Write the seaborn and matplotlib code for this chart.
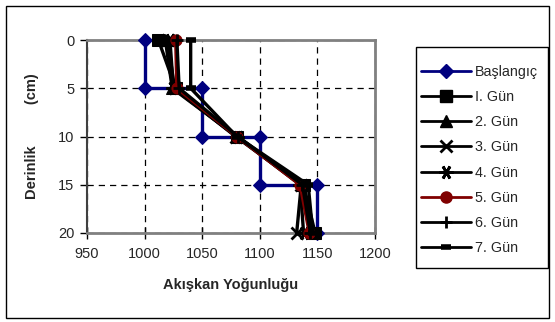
import matplotlib
matplotlib.use("Agg")
import matplotlib.pyplot as plt
import seaborn as sns
import pandas as pd
from matplotlib.patches import Rectangle

sns.set_theme(style="white")
plt.rcParams["font.family"] = ["Liberation Sans", "DejaVu Sans"]

# Initial profile is drawn layer by layer (each depth boundary repeated)
start_depth = [0, 5, 5, 10, 10, 15, 15, 20]
start_density = [1000, 1000, 1050, 1050, 1100, 1100, 1150, 1150]

depths = [0, 5, 10, 15, 20]
gun1 = [1012, 1027, 1080, 1138, 1148]
gun2 = [1018, 1024, 1080, 1137, 1145]
gun3 = [1020, 1026, 1079, 1136, 1132]
gun4 = [1022, 1025, 1080, 1135, 1138]
gun5 = [1027, 1028, 1080, 1135, 1143]
gun6 = [1028, 1030, 1081, 1137, 1144]
gun7 = [1040, 1040, 1080, 1142, 1146]

labels = ["Başlangıç", "I. Gün", "2. Gün", "3. Gün", "4. Gün", "5. Gün", "6. Gün", "7. Gün"]
day_series = [gun1, gun2, gun3, gun4, gun5, gun6, gun7]

styles = [
    dict(color="#00007f", marker="D", ms=7, mfc="#00007f", mec="#00007f"),
    dict(color="black", marker="s", ms=8, mfc="black", mec="black"),
    dict(color="black", marker="^", ms=8, mfc="black", mec="black"),
    dict(color="black", marker="x", ms=8, mew=2, mfc="black", mec="black"),
    dict(color="black", marker=(6, 2, 90), ms=10, mew=2, mfc="black", mec="black"),
    dict(color="#800000", marker="o", ms=8, mfc="#800000", mec="#800000"),
    dict(color="black", marker="+", ms=9, mew=2, mfc="black", mec="black"),
    dict(color="black", marker="_", ms=7, mew=4, mfc="black", mec="black"),
]

fig = plt.figure(figsize=(5.55, 3.22), dpi=100)
ax = fig.add_axes([87 / 555, 1 - 233 / 322, 288 / 555, 193 / 322])

frames = [pd.DataFrame({"density": start_density, "depth": start_depth})]
for vals in day_series:
    frames.append(pd.DataFrame({"density": vals, "depth": depths}))

handles = []
for lab, df, st in zip(labels, frames, styles):
    st = dict(st)
    color = st.pop("color")
    marker = st.pop("marker")
    ms = st.pop("ms")
    sns.lineplot(data=df, x="density", y="depth", sort=False, estimator=None,
                 ax=ax, color=color, lw=2.4, marker=marker, markersize=ms,
                 clip_on=False, zorder=3, **st)
    h, = ax.plot([], [], color=color, lw=2.0, marker=marker, markersize=ms, **st)
    handles.append(h)

ax.set_xlim(950, 1200)
ax.set_ylim(20, 0)
ax.set_xticks([950, 1000, 1050, 1100, 1150, 1200])
ax.set_yticks([0, 5, 10, 15, 20])
ax.grid(True, color="black", linestyle=(0, (5, 4)), lw=0.9)
for side in ["top", "right", "bottom"]:
    ax.spines[side].set_color("#808080")
    ax.spines[side].set_linewidth(2)
ax.spines["left"].set_color("#404040")
ax.spines["left"].set_linewidth(1.5)
ax.tick_params(axis="both", which="both", length=5, width=1, color="black",
               labelsize=10.5, left=True, bottom=True, direction="out", pad=4)
ax.tick_params(axis="x", direction="inout", length=8, pad=6)
ax.set_xlabel("Akışkan Yoğunluğu", fontsize=10.5, fontweight="bold", labelpad=12)
ax.set_ylabel("Derinlik          (cm)", fontsize=10.5, fontweight="bold", labelpad=14)

# Legend entries without their own frame; the box is drawn separately
leg = fig.legend(handles=handles, labels=labels, loc="upper left",
                 bbox_to_anchor=(421 / 555, 1 - 65 / 322), fontsize=10.3,
                 frameon=False, borderpad=0, labelspacing=0.78,
                 handlelength=3.5, handletextpad=0.25, borderaxespad=0)

fig.patches.append(Rectangle((416 / 555, 1 - 268 / 322), 132 / 555, 221 / 322,
                             transform=fig.transFigure, fill=False,
                             edgecolor="black", lw=1))

fig.patches.append(Rectangle((6 / 555, 4 / 322), 543 / 555, 312 / 322,
                             transform=fig.transFigure, fill=False,
                             edgecolor="black", lw=1))

fig.savefig("out.png", dpi=100)
